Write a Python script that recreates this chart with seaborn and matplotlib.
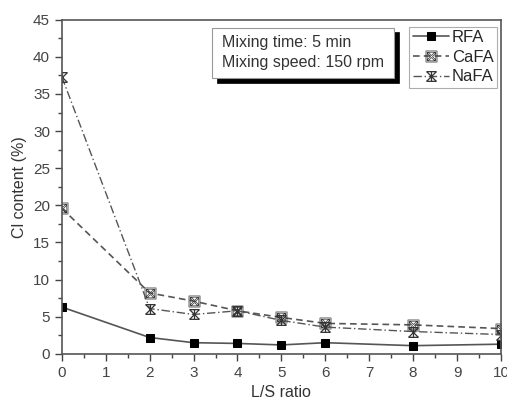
import matplotlib
matplotlib.use("Agg")
import matplotlib.pyplot as plt
import seaborn as sns
from matplotlib.path import Path
from matplotlib.patches import Rectangle

# Data
ls_ratio = [0, 2, 3, 4, 5, 6, 8, 10]
rfa = [6.3, 2.2, 1.5, 1.4, 1.2, 1.5, 1.1, 1.3]
cafa = [19.6, 8.2, 7.1, 5.8, 4.9, 4.1, 3.9, 3.4]
nafa = [37.3, 6.1, 5.3, 5.8, 4.5, 3.6, 3.0, 2.6]

sns.set_style("ticks")
plt.rcParams['font.family'] = ['Liberation Sans', 'DejaVu Sans']

# X with bars top and bottom (the NaFA symbol)
star_path = Path(
    [(-1, -1), (1, 1), (-1, 1), (1, -1), (-1, 1), (1, 1), (-1, -1), (1, -1), (0, -1), (0, 1)],
    [Path.MOVETO, Path.LINETO, Path.MOVETO, Path.LINETO, Path.MOVETO, Path.LINETO,
     Path.MOVETO, Path.LINETO, Path.MOVETO, Path.LINETO])

fig = plt.figure(figsize=(5.07, 4.03), dpi=100)
ax = fig.add_axes([0.122, 0.122, 0.866, 0.829])

sns.lineplot(x=ls_ratio, y=rfa, ax=ax, color='#555555', lw=1.2, linestyle='-',
             marker='s', markersize=6, markerfacecolor='black', markeredgecolor='black', label='RFA')
sns.lineplot(x=ls_ratio, y=cafa, ax=ax, color='#555555', lw=1.2, linestyle=(0, (4, 2.5)),
             marker='$\\boxtimes$', markersize=8, markerfacecolor='none', markeredgecolor='#333333',
             markeredgewidth=0.5, label='CaFA')
sns.lineplot(x=ls_ratio, y=nafa, ax=ax, color='#555555', lw=1.0, linestyle=(0, (6, 2, 1, 2)),
             marker=star_path, markersize=7, markerfacecolor='none', markeredgecolor='#333333',
             markeredgewidth=0.9, label='NaFA')

ax.set_xlim(0, 10)
ax.set_ylim(0, 45)
ax.set_xticks(range(0, 11))
ax.set_yticks(range(0, 46, 5))
ax.set_xticks([i + 0.5 for i in range(10)], minor=True)
ax.set_yticks([i * 5 + 2.5 for i in range(9)], minor=True)
ax.tick_params(which='major', direction='out', length=5, width=1, colors='#444444', labelsize=11)
ax.tick_params(which='minor', direction='out', length=3, width=1, colors='#444444')
for sp in ax.spines.values():
    sp.set_visible(True)
    sp.set_color('#555555')
    sp.set_linewidth(1.2)
ax.set_xlabel('L/S ratio', fontsize=11.5, color='#333333')
ax.set_ylabel('Cl content (%)', fontsize=11.5, color='#333333')

leg = ax.legend(loc='upper right', bbox_to_anchor=(0.991, 0.979), fontsize=12, frameon=True,
                fancybox=False, handlelength=2.2, handletextpad=0.15, borderpad=0.2,
                labelspacing=0.28, borderaxespad=0)
leg.get_frame().set_edgecolor('#999999')
leg.get_frame().set_linewidth(0.8)

# annotation box with drop shadow
bx0, bx1, by0, by1 = 0.342, 0.756, 0.826, 0.976
ax.add_patch(Rectangle((bx0 + 0.011, by0 - 0.014), bx1 - bx0, by1 - by0, transform=ax.transAxes,
                       facecolor='black', edgecolor='black', lw=0.5, zorder=4.5))
ax.add_patch(Rectangle((bx0, by0), bx1 - bx0, by1 - by0, transform=ax.transAxes,
                       facecolor='white', edgecolor='#999999', lw=0.8, zorder=5))
ax.text(0.365, 0.901, 'Mixing time: 5 min\nMixing speed: 150 rpm', transform=ax.transAxes,
        fontsize=11.5, color='#333333', va='center', ha='left', linespacing=1.4, zorder=6)

fig.savefig('out.png', dpi=100)
